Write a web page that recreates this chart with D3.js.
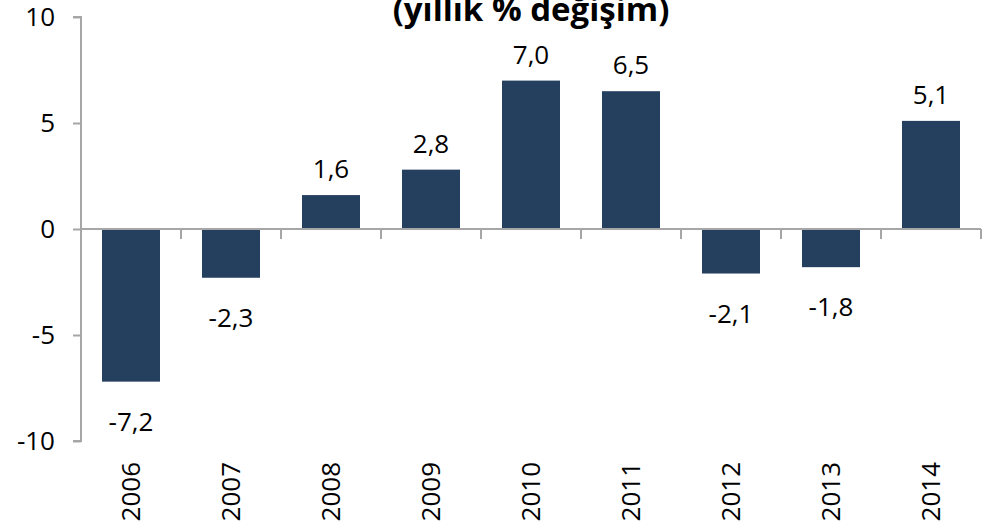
<!DOCTYPE html>
<html>
<head>
<meta charset="utf-8">
<script src="https://cdn.jsdelivr.net/npm/d3@7"></script>
<style>
  body { margin: 0; background: #fff; }
  text { font-family: "Open Sans", sans-serif; fill: #000; }
</style>
</head>
<body>
<div id="chart"></div>
<script>

var years = ['2006','2007','2008','2009','2010','2011','2012','2013','2014'];
var values = [-7.2, -2.3, 1.6, 2.8, 7.0, 6.5, -2.1, -1.8, 5.1];
var yTicks = [-10, -5, 0, 5, 10];
var title = '(yıllık % değişim)';

var width = 988, height = 532;
var margin = {top: 17, right: 7, bottom: 91, left: 81};

var svg = d3.select('#chart')
  .append('svg')
  .attr('width', width)
  .attr('height', height);

var x = d3.scaleBand()
  .domain(years)
  .range([margin.left, width - margin.right])
  .paddingInner(0.42)
  .paddingOuter(0.21);

var y = d3.scaleLinear()
  .domain([-10, 10])
  .range([height - margin.bottom, margin.top]);

var axisColor = '#a6a6a6';

// title (only lower line visible)
svg.append('text')
  .attr('x', (margin.left + width - margin.right) / 2)
  .attr('y', 21)
  .attr('text-anchor', 'middle')
  .style('font-size', '33px')
  .style('font-weight', 'bold')
  .text(title);

// bars
svg.selectAll('.bar')
  .data(values)
  .enter().append('rect')
  .attr('class', 'bar')
  .attr('x', function(d, i) { return x(years[i]); })
  .attr('width', x.bandwidth())
  .attr('y', function(d) { return y(Math.max(0, d)); })
  .attr('height', function(d) { return Math.abs(y(d) - y(0)); })
  .attr('fill', '#253f5f');

// y axis
var yAxis = svg.append('g')
  .attr('transform', 'translate(' + margin.left + ',0)')
  .call(d3.axisLeft(y).tickValues(yTicks).tickSize(8).tickPadding(18)
    .tickFormat(function(d) { return String(d); }));

yAxis.select('.domain').attr('stroke', axisColor).attr('stroke-width', 2)
  .attr('d', 'M-8,' + y(10) + 'H0V' + y(-10) + 'H-8');
yAxis.selectAll('.tick line').attr('stroke', axisColor).attr('stroke-width', 2);
yAxis.selectAll('.tick text')
  .style('font-size', '26px')
  .style('font-family', '"Open Sans", sans-serif')
  .attr('fill', '#000');

// x axis at zero
svg.append('line')
  .attr('x1', margin.left)
  .attr('x2', width - margin.right)
  .attr('y1', y(0))
  .attr('y2', y(0))
  .attr('stroke', axisColor)
  .attr('stroke-width', 2);

var gap = (x.step() - x.bandwidth()) / 2;
svg.selectAll('.xtick')
  .data(years)
  .enter().append('line')
  .attr('class', 'xtick')
  .attr('x1', function(d) { return x(d) + x.bandwidth() + gap; })
  .attr('x2', function(d) { return x(d) + x.bandwidth() + gap; })
  .attr('y1', y(0))
  .attr('y2', y(0) + 10)
  .attr('stroke', axisColor)
  .attr('stroke-width', 2);

// year labels
svg.selectAll('.year')
  .data(years)
  .enter().append('text')
  .attr('class', 'year')
  .attr('transform', function(d) {
    return 'translate(' + (x(d) + x.bandwidth() / 2) + ',462) rotate(-90)';
  })
  .attr('text-anchor', 'end')
  .attr('dy', '0.36em')
  .style('font-size', '26px')
  .text(function(d) { return d; });

// value labels
svg.selectAll('.val')
  .data(values)
  .enter().append('text')
  .attr('class', 'val')
  .attr('x', function(d, i) { return x(years[i]) + x.bandwidth() / 2; })
  .attr('y', function(d) { return d >= 0 ? y(d) - 17 : y(d) + 49; })
  .attr('text-anchor', 'middle')
  .style('font-size', '26px')
  .text(function(d) { return d.toFixed(1).replace('.', ','); });

</script>
</body>
</html>
